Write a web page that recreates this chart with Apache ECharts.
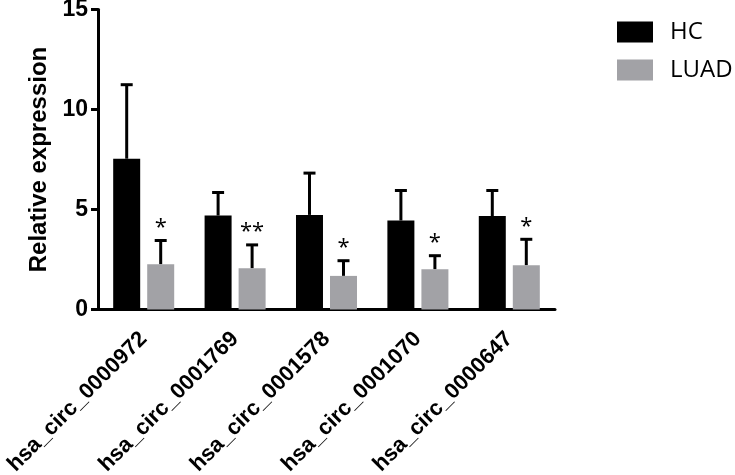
<!DOCTYPE html>
<html>
<head>
<meta charset="utf-8">
<script src="https://cdn.jsdelivr.net/npm/echarts@6/dist/echarts.min.js"></script>
<style>html,body{margin:0;padding:0;background:#fff;}#c{width:735px;height:475px;}</style>
</head>
<body>
<div id="c"></div>
<script>
const categories = ['hsa_circ_0000972','hsa_circ_0001769','hsa_circ_0001578','hsa_circ_0001070','hsa_circ_0000647'];
const hcMean = [7.54, 4.70, 4.73, 4.45, 4.67];
const hcUpper = [11.24, 5.85, 6.82, 5.95, 5.95];
const luadMean = [2.26, 2.06, 1.68, 2.01, 2.21];
const luadUpper = [3.45, 3.23, 2.44, 2.69, 3.51];
const sigLabels = ['*', '**', '*', '*', '*'];
const yTicks = [0, 5, 10, 15];

const chart = echarts.init(document.getElementById('c'));
const BAR_OFFSET = 17;

function errData(mean, upper, sig) {
  return mean.map((m, i) => [i, m, upper[i], sig ? sig[i] : '']);
}
function errRender(offset) {
  return function (params, api) {
    const i = api.value(0);
    const base = api.coord([i, api.value(1)]);
    const top = api.coord([i, api.value(2)]);
    const x = base[0] + offset;
    const children = [
      { type: 'line', shape: { x1: x, y1: base[1], x2: x, y2: top[1] }, style: { stroke: '#000', lineWidth: 3 } },
      { type: 'line', shape: { x1: x - 6, y1: top[1], x2: x + 6, y2: top[1] }, style: { stroke: '#000', lineWidth: 3 } }
    ];
    const s = api.value(3);
    if (s) {
      children.push({ type: 'text', style: { text: s, x: x, y: top[1] - 2, align: 'center', verticalAlign: 'bottom', font: '22px "Open Sans"', fill: '#000' } });
    }
    return { type: 'group', children };
  };
}

chart.setOption({
  animation: false,
  grid: { left: 98, right: 180, top: 9.5, bottom: 165.5, containLabel: false, outerBoundsMode: 'none' },
  legend: {
    orient: 'vertical', left: 612, top: 15,
    itemWidth: 36, itemHeight: 21, itemGap: 14,
    icon: 'rect',
    textStyle: { fontFamily: 'Open Sans', fontSize: 24, color: '#000', padding: [0, 0, 0, 12] },
    data: ['HC', 'LUAD']
  },
  xAxis: {
    type: 'category', data: categories,
    axisLine: { lineStyle: { color: '#000', width: 3 } },
    axisTick: { alignWithLabel: true, length: 7, lineStyle: { color: '#000', width: 3 } },
    axisLabel: { rotate: 45, margin: 26, fontFamily: 'Liberation Sans', fontWeight: 'bold', fontSize: 22, color: '#000' }
  },
  yAxis: {
    type: 'value', min: 0, max: 15, interval: 5,
    name: 'Relative expression', nameLocation: 'middle', nameGap: 40,
    nameTextStyle: { fontFamily: 'Liberation Sans', fontWeight: 'bold', fontSize: 24, color: '#000' },
    axisLine: { show: true, lineStyle: { color: '#000', width: 3 } },
    axisTick: { show: true, length: 7, lineStyle: { color: '#000', width: 3 } },
    axisLabel: { margin: 10, fontFamily: 'Liberation Sans', fontWeight: 'bold', fontSize: 23, color: '#000',
      formatter: v => yTicks.includes(v) ? String(v) : '' },
    splitLine: { show: false }
  },
  series: [
    { name: 'HC', type: 'bar', data: hcMean, barWidth: 27, barGap: '26%', itemStyle: { color: '#000' }, z: 2 },
    { name: 'LUAD', type: 'bar', data: luadMean, barWidth: 27, barGap: '26%', itemStyle: { color: '#a2a2a6' }, z: 2 },
    { type: 'custom', data: errData(hcMean, hcUpper), renderItem: errRender(-BAR_OFFSET), encode: { x: 0, y: [1, 2] }, z: 1, silent: true },
    { type: 'custom', data: errData(luadMean, luadUpper, sigLabels), renderItem: errRender(BAR_OFFSET), encode: { x: 0, y: [1, 2] }, z: 1, silent: true }
  ]
});
</script>
</body>
</html>
